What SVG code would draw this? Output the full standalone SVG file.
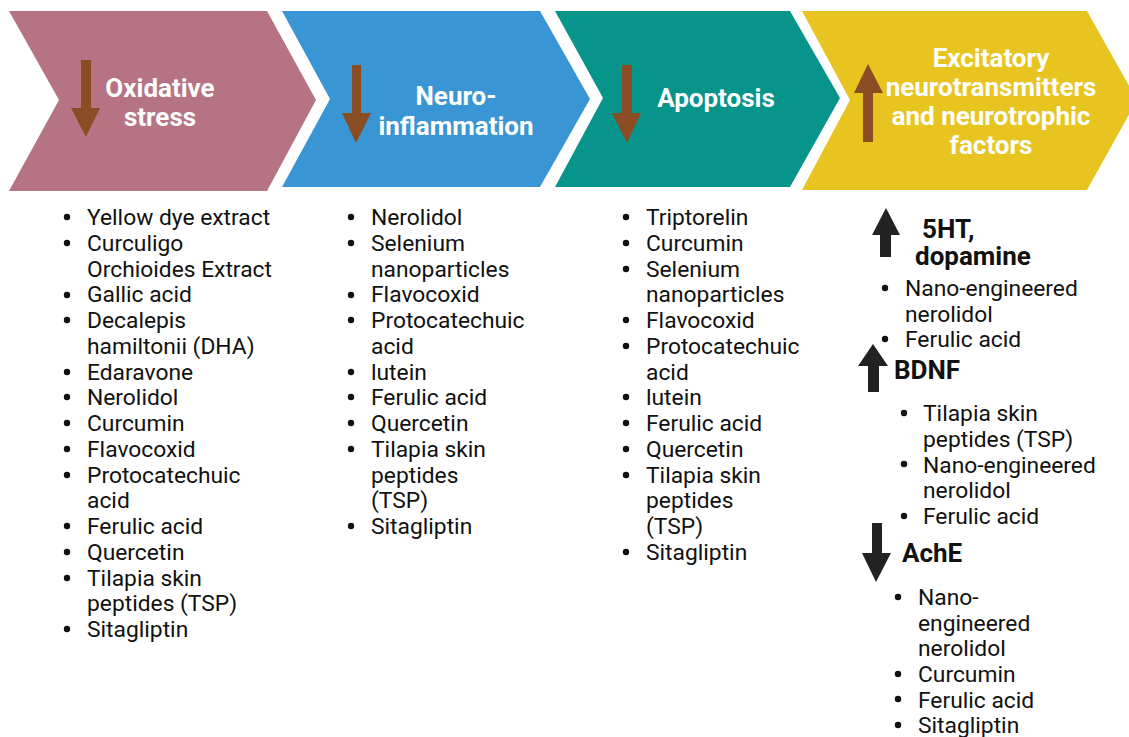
<svg xmlns="http://www.w3.org/2000/svg" width="1129" height="737" viewBox="0 0 1129 737">
<style>
.t{font-family:Roboto,"Liberation Sans",sans-serif;font-weight:bold;font-size:26px;fill:#fff;text-anchor:middle}
.l{font-family:Roboto,"Liberation Sans",sans-serif;font-size:22.8px;fill:#111}
.b{font-family:Roboto,"Liberation Sans",sans-serif;font-weight:bold;font-size:26px;fill:#111}
.br{fill:#8A4C22}
.dk{fill:#222}
.bu{fill:#111}
</style>
<rect width="1129" height="737" fill="#fff"/>
<g id="step1">
<polygon points="9,11 267,11 316,100 267,191 9,191 59,100" fill="#B57384"/>
<polygon class="br" points="81,60 91,60 91,108 100,108 86,137 71,108 81,108"/>
<text class="t" x="160" y="97">Oxidative</text>
<text class="t" x="160" y="126">stress</text>
</g>
<g id="step2">
<polygon points="282,11 540,11 590,99 540,187 282,187 330,99" fill="#3A95D5"/>
<polygon class="br" points="352,65 361,65 361,113 371,113 356,143 342,113 352,113"/>
<text class="t" x="456" y="105">Neuro-</text>
<text class="t" x="456" y="135">inflammation</text>
</g>
<g id="step3">
<polygon points="555,11 790,11 840,98 790,187 555,187 603,98" fill="#07948B"/>
<polygon class="br" points="622,65 632,65 632,113 641,113 627,143 612,113 622,113"/>
<text class="t" x="716" y="107">Apoptosis</text>
</g>
<g id="step4">
<polygon points="802,11 1087,11 1137,100 1087,190 802,190 850,100" fill="#E8C420"/>
<polygon class="br" points="868,64 883,93 873,93 873,142 863,142 863,93 854,93"/>
<text class="t" x="991" y="67">Excitatory</text>
<text class="t" x="991" y="96">neurotransmitters</text>
<text class="t" x="991" y="125">and neurotrophic</text>
<text class="t" x="991" y="154">factors</text>
</g>
<g id="list1">
<g class="bu">
<circle cx="67" cy="217" r="3.2"/><circle cx="67" cy="243" r="3.2"/><circle cx="67" cy="295" r="3.2"/><circle cx="67" cy="320" r="3.2"/><circle cx="67" cy="372" r="3.2"/><circle cx="67" cy="397" r="3.2"/><circle cx="67" cy="423" r="3.2"/><circle cx="67" cy="449" r="3.2"/><circle cx="67" cy="475" r="3.2"/><circle cx="67" cy="526" r="3.2"/><circle cx="67" cy="552" r="3.2"/><circle cx="67" cy="578" r="3.2"/><circle cx="67" cy="629" r="3.2"/>
</g>
<text class="l" x="87" y="225">Yellow dye extract</text>
<text class="l" x="87" y="250.5">Curculigo</text>
<text class="l" x="87" y="276.5">Orchioides Extract</text>
<text class="l" x="87" y="302">Gallic acid</text>
<text class="l" x="87" y="328">Decalepis</text>
<text class="l" x="87" y="353.5">hamiltonii (DHA)</text>
<text class="l" x="87" y="379.5">Edaravone</text>
<text class="l" x="87" y="405">Nerolidol</text>
<text class="l" x="87" y="431">Curcumin</text>
<text class="l" x="87" y="456.5">Flavocoxid</text>
<text class="l" x="87" y="482.5">Protocatechuic</text>
<text class="l" x="87" y="508">acid</text>
<text class="l" x="87" y="534">Ferulic acid</text>
<text class="l" x="87" y="559.5">Quercetin</text>
<text class="l" x="87" y="585.5">Tilapia skin</text>
<text class="l" x="87" y="611">peptides (TSP)</text>
<text class="l" x="87" y="637">Sitagliptin</text>
</g>
<g id="list2">
<g class="bu">
<circle cx="351" cy="217" r="3.2"/><circle cx="351" cy="243" r="3.2"/><circle cx="351" cy="295" r="3.2"/><circle cx="351" cy="320" r="3.2"/><circle cx="351" cy="372" r="3.2"/><circle cx="351" cy="397" r="3.2"/><circle cx="351" cy="423" r="3.2"/><circle cx="351" cy="449" r="3.2"/><circle cx="351" cy="526" r="3.2"/>
</g>
<text class="l" x="371" y="225">Nerolidol</text>
<text class="l" x="371" y="250.5">Selenium</text>
<text class="l" x="371" y="276.5">nanoparticles</text>
<text class="l" x="371" y="302">Flavocoxid</text>
<text class="l" x="371" y="328">Protocatechuic</text>
<text class="l" x="371" y="353.5">acid</text>
<text class="l" x="371" y="379.5">lutein</text>
<text class="l" x="371" y="405">Ferulic acid</text>
<text class="l" x="371" y="431">Quercetin</text>
<text class="l" x="371" y="456.5">Tilapia skin</text>
<text class="l" x="371" y="482.5">peptides</text>
<text class="l" x="371" y="508">(TSP)</text>
<text class="l" x="371" y="534">Sitagliptin</text>
</g>
<g id="list3">
<g class="bu">
<circle cx="626" cy="217" r="3.2"/><circle cx="626" cy="243" r="3.2"/><circle cx="626" cy="269" r="3.2"/><circle cx="626" cy="320" r="3.2"/><circle cx="626" cy="346" r="3.2"/><circle cx="626" cy="397" r="3.2"/><circle cx="626" cy="423" r="3.2"/><circle cx="626" cy="449" r="3.2"/><circle cx="626" cy="475" r="3.2"/><circle cx="626" cy="552" r="3.2"/>
</g>
<text class="l" x="646" y="225">Triptorelin</text>
<text class="l" x="646" y="250.5">Curcumin</text>
<text class="l" x="646" y="276.5">Selenium</text>
<text class="l" x="646" y="302">nanoparticles</text>
<text class="l" x="646" y="328">Flavocoxid</text>
<text class="l" x="646" y="353.5">Protocatechuic</text>
<text class="l" x="646" y="379.5">acid</text>
<text class="l" x="646" y="405">lutein</text>
<text class="l" x="646" y="431">Ferulic acid</text>
<text class="l" x="646" y="456.5">Quercetin</text>
<text class="l" x="646" y="482.5">Tilapia skin</text>
<text class="l" x="646" y="508">peptides</text>
<text class="l" x="646" y="534">(TSP)</text>
<text class="l" x="646" y="559.5">Sitagliptin</text>
</g>
<g id="list4">
<polygon class="dk" points="886,208 900,235 891,235 891,257 880,257 880,235 872,235"/>
<text class="b" x="922" y="238">5HT,</text>
<text class="b" x="915" y="265">dopamine</text>
<circle class="bu" cx="885" cy="288" r="3.2"/><circle class="bu" cx="885" cy="339" r="3.2"/>
<text class="l" x="905" y="296">Nano-engineered</text>
<text class="l" x="905" y="321.5">nerolidol</text>
<text class="l" x="905" y="347">Ferulic acid</text>
<polygon class="dk" points="873,344 888,366 879,366 879,392 868,392 868,366 858,366"/>
<text class="b" x="894" y="379">BDNF</text>
<circle class="bu" cx="904" cy="413" r="3.2"/><circle class="bu" cx="904" cy="464" r="3.2"/><circle class="bu" cx="904" cy="516" r="3.2"/>
<text class="l" x="923" y="421">Tilapia skin</text>
<text class="l" x="923" y="446.5">peptides (TSP)</text>
<text class="l" x="923" y="472.5">Nano-engineered</text>
<text class="l" x="923" y="498">nerolidol</text>
<text class="l" x="923" y="524">Ferulic acid</text>
<polygon class="dk" points="872,523 882,523 882,553 891,553 876,582 862,553 872,553"/>
<text class="b" x="902" y="562">AchE</text>
<circle class="bu" cx="898" cy="597" r="3.2"/><circle class="bu" cx="898" cy="674" r="3.2"/><circle class="bu" cx="898" cy="699" r="3.2"/><circle class="bu" cx="898" cy="725" r="3.2"/>
<text class="l" x="918" y="605">Nano-</text>
<text class="l" x="918" y="630.5">engineered</text>
<text class="l" x="918" y="656">nerolidol</text>
<text class="l" x="918" y="682">Curcumin</text>
<text class="l" x="918" y="707.5">Ferulic acid</text>
<text class="l" x="918" y="733">Sitagliptin</text>
</g>
</svg>
